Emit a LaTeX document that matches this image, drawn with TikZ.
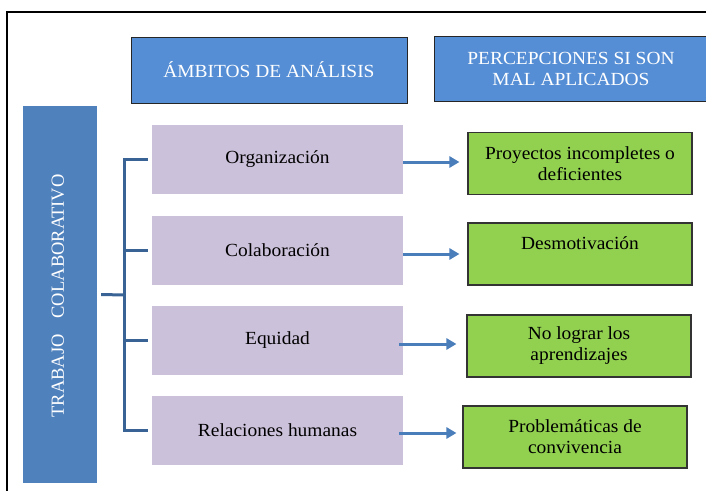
\documentclass[tikz,border=0pt]{standalone}
\usepackage{fontspec}
\setmainfont{Liberation Serif}[FakeStretch=1.05]
\newfontfamily\vertfont{Liberation Serif}
\usetikzlibrary{arrows.meta}
\definecolor{hdrblue}{HTML}{558ED5}
\definecolor{leftblue}{HTML}{4F81BD}
\definecolor{brblue}{HTML}{3A6395}
\definecolor{arrblue}{HTML}{4A7EBB}
\definecolor{lilac}{HTML}{CCC1DA}
\definecolor{lgreen}{HTML}{92D050}
\tikzset{
  hdr/.style={draw=black!85, line width=0.9pt, fill=hdrblue, text=white, inner sep=0pt, align=center,
    font=\fontsize{18.5}{21}\selectfont},
  ambito/.style={fill=lilac, inner sep=0pt, minimum width=251pt, minimum height=69pt,
    font=\fontsize{18.5}{21}\selectfont},
  perc/.style={draw=black!80, line width=1.1pt, fill=lgreen, inner sep=0pt, align=center,
    minimum width=224pt, minimum height=62pt, font=\fontsize{18.5}{21}\selectfont},
  br/.style={draw=brblue, line width=3pt},
  arr/.style={draw=arrblue, line width=3pt, -{Triangle[length=10pt,width=11pt]}},
}
\begin{document}
\begin{tikzpicture}[x=1pt,y=-1pt]
\useasboundingbox (0,0) rectangle (706,490);
% outer frame
\draw[line width=1.4pt, black] (720,12) -- (7,12) -- (7,500);
% headers
\node[hdr, minimum width=276pt, minimum height=66pt] (h1) at (269,70) {ÁMBITOS DE ANÁLISIS};
\node[hdr, minimum width=274pt, minimum height=65pt] (h2) at (571,68.5) {PERCEPCIONES SI SON\\MAL APLICADOS};
% left box
\node[fill=leftblue, inner sep=0pt, minimum width=74pt, minimum height=377pt] (L) at (60,294.5) {};
\node[text=white, rotate=90, inner sep=0pt, font=\vertfont\fontsize{18.5}{21}\selectfont] (Lt) at (58,296)
  {TRABAJO\hspace{16pt}COLABORATIVO};
% ambitos
\node[ambito] (p1) at (277.5,159.5) {Organización};
\node[ambito] (p2) at (277.5,250) {Colaboración};
\node[ambito] (p3) at (277.5,340.5) {Equidad};
\node[ambito] (p4) at (277.5,430.5) {Relaciones humanas};
% percepciones
\node[perc] (g1) at (580,163.5) {Proyectos incompletes o\\deficientes};
\node[perc] (g2) at (580,254) {Desmotivación\\\mbox{}};
\node[perc] (g3) at (579,346) {No lograr los\\aprendizajes};
\node[perc] (g4) at (575,437) {Problemáticas de\\convivencia};
% bracket
\coordinate (bx) at (124,295);
\draw[br] ([xshift=4pt]L.east) -- (bx);
\draw[br] (bx) |- ([xshift=-4pt]p1.west);
\draw[br] (bx) |- ([xshift=-4pt]p2.west);
\draw[br] (bx) |- ([xshift=-4pt]p3.west);
\draw[br] (bx) |- ([xshift=-4pt]p4.west);
% arrows
\draw[arr] ([yshift=-2.5pt]p1.east) -- ([xshift=-8pt,yshift=1.5pt]g1.west);
\draw[arr] ([yshift=-4pt]p2.east) -- ([xshift=-8pt]g2.west);
\draw[arr] ([xshift=-4pt,yshift=-3.5pt]p3.east) -- ([xshift=-10pt,yshift=2pt]g3.west);
\draw[arr] ([xshift=-4pt,yshift=-2.5pt]p4.east) -- ([xshift=-6pt,yshift=4pt]g4.west);
\end{tikzpicture}
\end{document}
